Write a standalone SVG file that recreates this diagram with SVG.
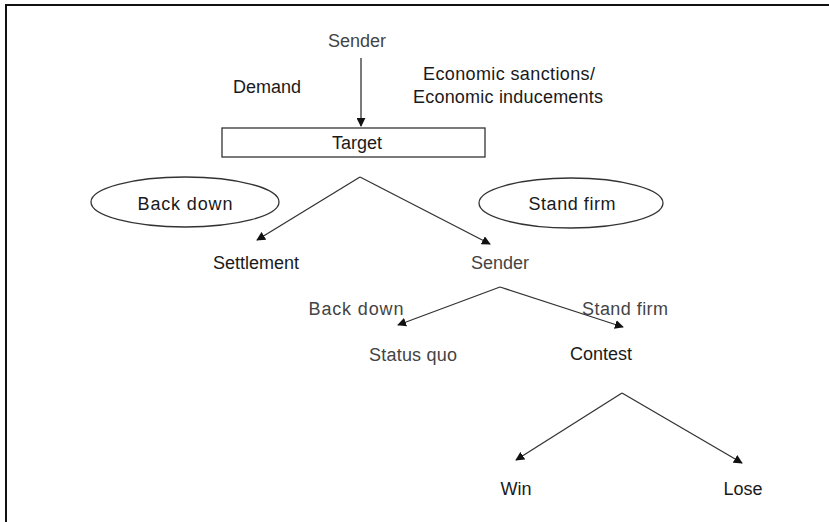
<svg xmlns="http://www.w3.org/2000/svg" width="829" height="522" viewBox="0 0 829 522">
<style>
text{font-family:"Liberation Sans",Arial,sans-serif;font-size:18px;text-anchor:middle}
.k{fill:#1a1a1a}
.g{fill:#444}
.edge{stroke:#333;stroke-width:1.3;fill:none;marker-end:url(#ah)}
.shape{fill:#fff;stroke:#333;stroke-width:1.3}
</style>
<defs>
<marker id="ah" viewBox="0 0 10 10" refX="9" refY="5" markerWidth="9" markerHeight="9" markerUnits="userSpaceOnUse" orient="auto">
<path d="M0,0 L10,5 L0,10 z" fill="#111"/>
</marker>
</defs>
<rect x="0" y="0" width="829" height="522" fill="#fff"/>
<rect x="6" y="5" width="840" height="540" fill="none" stroke="#111" stroke-width="2"/>
<g id="connectors">
<line class="edge" x1="361" y1="58" x2="361" y2="126"/>
<line class="edge" x1="360" y1="177" x2="257" y2="240"/>
<line class="edge" x1="360" y1="177" x2="490" y2="244"/>
<line class="edge" x1="500" y1="287" x2="398" y2="325"/>
<line class="edge" x1="500" y1="287" x2="623" y2="327"/>
<line class="edge" x1="622" y1="393" x2="516" y2="460"/>
<line class="edge" x1="622" y1="393" x2="742" y2="463"/>
</g>
<g id="sender-top"><text class="g" x="357" y="47">Sender</text></g>
<g id="demand"><text class="k" x="267" y="93">Demand</text></g>
<g id="economic">
<text class="k" x="509" y="80" textLength="172">Economic sanctions/</text>
<text class="k" x="508" y="103" textLength="190">Economic inducements</text>
</g>
<g id="target">
<rect class="shape" x="222" y="128" width="263" height="29"/>
<text class="k" x="357" y="149">Target</text>
</g>
<g id="back-down-oval">
<ellipse class="shape" cx="185" cy="202" rx="94" ry="25"/>
<text class="k" x="185" y="210" textLength="95">Back down</text>
</g>
<g id="stand-firm-oval">
<ellipse class="shape" cx="571" cy="203" rx="92" ry="25"/>
<text class="k" x="572" y="210" textLength="87">Stand firm</text>
</g>
<g id="settlement"><text class="k" x="256" y="269">Settlement</text></g>
<g id="sender-mid"><text class="g" x="500" y="269">Sender</text></g>
<g id="back-down-label"><text class="g" x="356" y="315" textLength="95">Back down</text></g>
<g id="stand-firm-label"><text class="g" x="625" y="315" textLength="86">Stand firm</text></g>
<g id="status-quo"><text class="g" x="413" y="361" textLength="88">Status quo</text></g>
<g id="contest"><text class="k" x="601" y="360">Contest</text></g>
<g id="win"><text class="k" x="516" y="495">Win</text></g>
<g id="lose"><text class="k" x="743" y="495">Lose</text></g>
</svg>
